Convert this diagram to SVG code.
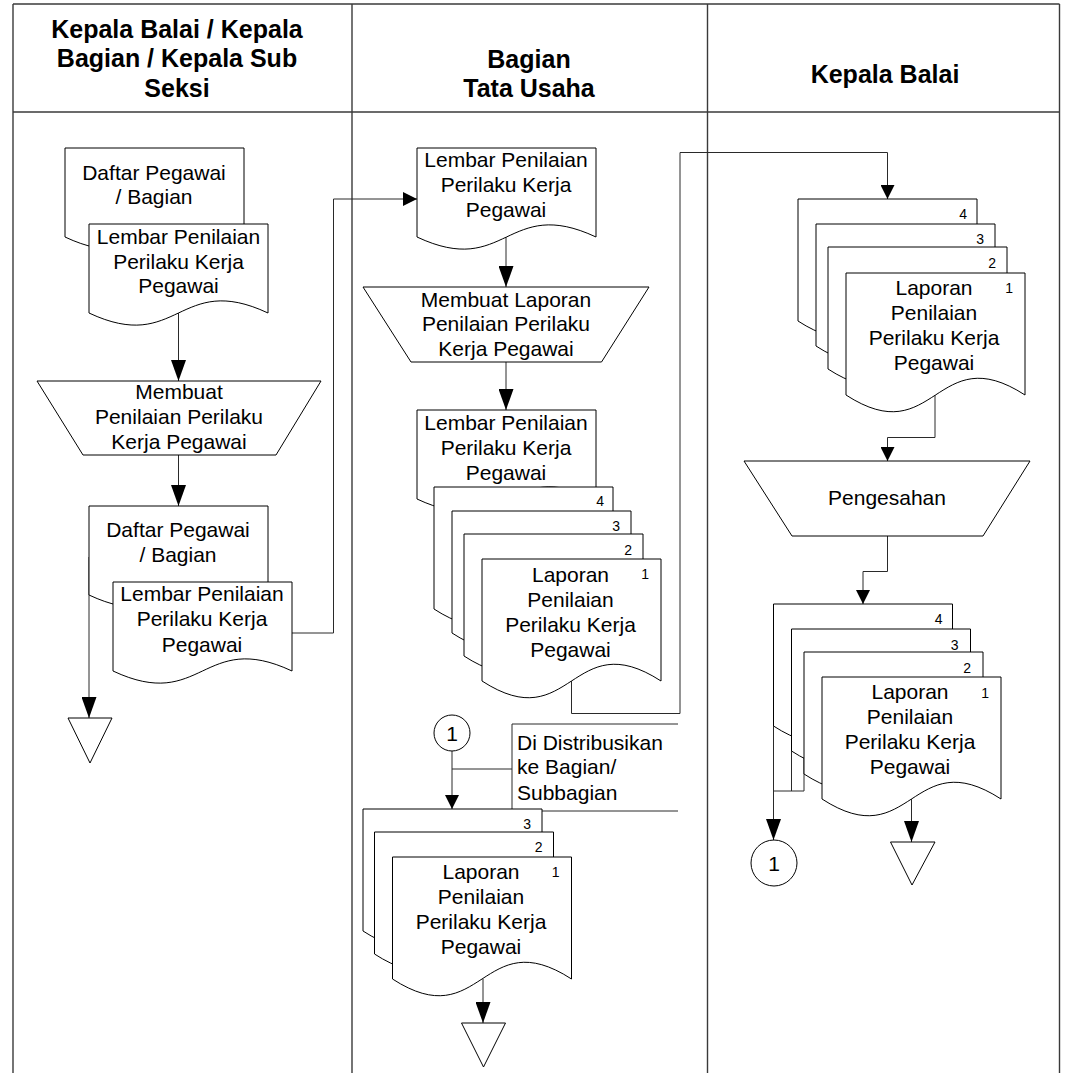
<svg xmlns="http://www.w3.org/2000/svg" xmlns:xlink="http://www.w3.org/1999/xlink" width="1065" height="1073" viewBox="0 0 1065 1073">
  <style>
    .frame { fill: none; stroke: #3a3a3a; stroke-width: 1.4; }
    .shape { fill: #ffffff; stroke: #000000; stroke-width: 1; }
    .line { fill: none; stroke: #2a2a2a; stroke-width: 1; }
    .hdr { font-family: "Liberation Sans", Arial, sans-serif; font-size: 25px; font-weight: bold; fill: #000; text-anchor: middle; }
    .t { font-family: "Liberation Sans", Arial, sans-serif; font-size: 21px; fill: #000; text-anchor: middle; }
    .tl { font-family: "Liberation Sans", Arial, sans-serif; font-size: 21px; fill: #000; }
    .n { font-family: "Liberation Sans", Arial, sans-serif; font-size: 14px; fill: #000; text-anchor: end; }
  </style>
  <defs>
    <!-- document shapes: flat top, wavy bottom -->
    <path id="docS" d="M0,0 H179 V89 C89.5,47 89.5,131 0,89 Z"/>
    <path id="docL" d="M0,0 H179 V122 C89.5,64 89.5,180 0,122 Z"/>
    <marker id="arrowS" markerUnits="userSpaceOnUse" markerWidth="14" markerHeight="14" refX="14" refY="7" orient="auto">
      <path d="M0,0 L14,7 L0,14 Z" fill="#000"/>
    </marker>
    <marker id="arrowL" markerUnits="userSpaceOnUse" markerWidth="21" markerHeight="15" refX="21" refY="7.5" orient="auto">
      <path d="M0,0 L21,7.5 L0,15 Z" fill="#000"/>
    </marker>
  </defs>

  <rect width="1065" height="1073" fill="#ffffff"/>

  <!-- swimlane frame -->
  <g id="lanes">
    <line class="frame" x1="13" y1="4" x2="1059.5" y2="4"/>
    <line class="frame" x1="13" y1="112" x2="1059.5" y2="112"/>
    <line class="frame" x1="13" y1="4" x2="13" y2="1073"/>
    <line class="frame" x1="352" y1="4" x2="352" y2="1073"/>
    <line class="frame" x1="707.5" y1="4" x2="707.5" y2="1073"/>
    <line class="frame" x1="1059.5" y1="4" x2="1059.5" y2="1073"/>
    <text class="hdr" x="177" y="37.5">Kepala Balai / Kepala</text>
    <text class="hdr" x="177" y="67">Bagian / Kepala Sub</text>
    <text class="hdr" x="177" y="96.5">Seksi</text>
    <text class="hdr" x="529" y="67.5">Bagian</text>
    <text class="hdr" x="529" y="96.5">Tata Usaha</text>
    <text class="hdr" x="885" y="83">Kepala Balai</text>
  </g>

  <!-- connectors -->
  <g id="connectors">
    <path class="line" d="M291.7,633 H333.5 V199 H417" marker-end="url(#arrowS)"/>
    <path class="line" d="M178.5,313 V381" marker-end="url(#arrowL)"/>
    <path class="line" d="M178.5,455 V506" marker-end="url(#arrowL)"/>
    <path class="line" d="M89,557 V718" marker-end="url(#arrowL)"/>
    <path class="line" d="M506,237 V287" marker-end="url(#arrowL)"/>
    <path class="line" d="M506,362 V410" marker-end="url(#arrowL)"/>
    <path class="line" d="M571.5,681 V713.5 H680 V152.5 H887.5 V199" marker-end="url(#arrowS)"/>
    <path class="line" d="M452,751 V809" marker-end="url(#arrowS)"/>
    <path class="line" d="M452,769 H512"/>
    <path class="line" d="M483,979 V1023" marker-end="url(#arrowL)"/>
    <path class="line" d="M935,395 V437.5 H887.5 V461" marker-end="url(#arrowS)"/>
    <path class="line" d="M887.5,536 V571.5 H863 V604" marker-end="url(#arrowS)"/>
    <path class="line" d="M804,720 V791 H773.5"/>
    <path class="line" d="M791.5,700 V791"/>
    <path class="line" d="M773.5,680 V840" marker-end="url(#arrowL)"/>
    <path class="line" d="M911.5,799 V842" marker-end="url(#arrowL)"/>
  </g>

  <!-- left lane -->
  <g id="daftar-pegawai-1">
    <use href="#docS" class="shape" x="65" y="148"/>
    <text class="t" x="154" y="180">Daftar Pegawai</text>
    <text class="t" x="154" y="204">/ Bagian</text>
  </g>
  <g id="lembar-penilaian-1">
    <use href="#docS" class="shape" x="89" y="224"/>
    <text class="t" x="178.5" y="243.5">Lembar Penilaian</text>
    <text class="t" x="178.5" y="268.5">Perilaku Kerja</text>
    <text class="t" x="178.5" y="293">Pegawai</text>
  </g>
  <g id="membuat-penilaian">
    <polygon class="shape" points="37,381 321,381 276,455 83,455"/>
    <text class="t" x="179" y="398.5">Membuat</text>
    <text class="t" x="179" y="424">Penilaian Perilaku</text>
    <text class="t" x="179" y="449">Kerja Pegawai</text>
  </g>
  <g id="daftar-pegawai-2">
    <use href="#docS" class="shape" x="89" y="506"/>
    <text class="t" x="178" y="537">Daftar Pegawai</text>
    <text class="t" x="178" y="562">/ Bagian</text>
  </g>
  <g id="lembar-penilaian-2">
    <use href="#docS" class="shape" x="113" y="582"/>
    <text class="t" x="202" y="600.5">Lembar Penilaian</text>
    <text class="t" x="202" y="626">Perilaku Kerja</text>
    <text class="t" x="202" y="651.5">Pegawai</text>
  </g>
  <g id="arsip-1">
    <polygon class="shape" points="68,718 112,718 90,763"/>
  </g>

  <!-- middle lane -->
  <g id="lembar-penilaian-3">
    <use href="#docS" class="shape" x="417" y="148"/>
    <text class="t" x="506" y="167">Lembar Penilaian</text>
    <text class="t" x="506" y="192">Perilaku Kerja</text>
    <text class="t" x="506" y="217">Pegawai</text>
  </g>
  <g id="membuat-laporan">
    <polygon class="shape" points="363,287 649,287 601.5,362 411,362"/>
    <text class="t" x="506" y="306.5">Membuat Laporan</text>
    <text class="t" x="506" y="330.5">Penilaian Perilaku</text>
    <text class="t" x="506" y="355.5">Kerja Pegawai</text>
  </g>
  <g id="lembar-penilaian-4">
    <use href="#docS" class="shape" x="417" y="410"/>
    <text class="t" x="506" y="429.5">Lembar Penilaian</text>
    <text class="t" x="506" y="454.5">Perilaku Kerja</text>
    <text class="t" x="506" y="479.5">Pegawai</text>
  </g>
  <g id="laporan-tu">
    <use href="#docL" class="shape" x="434" y="487"/>
    <text class="n" x="604" y="506">4</text>
    <use href="#docL" class="shape" x="452" y="511"/>
    <text class="n" x="620" y="531">3</text>
    <use href="#docL" class="shape" x="464" y="534"/>
    <text class="n" x="632" y="555">2</text>
    <use href="#docL" class="shape" x="482" y="559"/>
    <text class="n" x="649" y="579">1</text>
    <text class="t" x="570.5" y="581.5">Laporan</text>
    <text class="t" x="570.5" y="606.5">Penilaian</text>
    <text class="t" x="570.5" y="631.5">Perilaku Kerja</text>
    <text class="t" x="570.5" y="656.5">Pegawai</text>
  </g>
  <g id="konektor-1a">
    <circle class="shape" cx="452" cy="733" r="18"/>
    <text class="t" x="452" y="740.5">1</text>
  </g>
  <g id="catatan-distribusi">
    <path class="line" d="M678,724 H512 V811 H678"/>
    <text class="tl" x="517" y="749.5">Di Distribusikan</text>
    <text class="tl" x="517" y="774">ke Bagian/</text>
    <text class="tl" x="517" y="799.5">Subbagian</text>
  </g>
  <g id="laporan-distribusi">
    <use href="#docL" class="shape" x="363" y="809"/>
    <text class="n" x="531" y="829">3</text>
    <use href="#docL" class="shape" x="374.5" y="832"/>
    <text class="n" x="542.5" y="852">2</text>
    <use href="#docL" class="shape" x="392.5" y="857"/>
    <text class="n" x="559.5" y="877">1</text>
    <text class="t" x="481" y="878.5">Laporan</text>
    <text class="t" x="481" y="903.5">Penilaian</text>
    <text class="t" x="481" y="928.5">Perilaku Kerja</text>
    <text class="t" x="481" y="953.5">Pegawai</text>
  </g>
  <g id="arsip-2">
    <polygon class="shape" points="461.5,1023 505.5,1023 483.5,1067"/>
  </g>

  <!-- right lane -->
  <g id="laporan-masuk">
    <use href="#docL" class="shape" x="798" y="199"/>
    <text class="n" x="967" y="218.5">4</text>
    <use href="#docL" class="shape" x="816" y="224"/>
    <text class="n" x="984" y="243.5">3</text>
    <use href="#docL" class="shape" x="828" y="247"/>
    <text class="n" x="996" y="267.5">2</text>
    <use href="#docL" class="shape" x="846" y="273"/>
    <text class="n" x="1013" y="293">1</text>
    <text class="t" x="934" y="294.5">Laporan</text>
    <text class="t" x="934" y="319.5">Penilaian</text>
    <text class="t" x="934" y="344.5">Perilaku Kerja</text>
    <text class="t" x="934" y="369.5">Pegawai</text>
  </g>
  <g id="pengesahan">
    <polygon class="shape" points="744,461 1030,461 983,536 792,536"/>
    <text class="t" x="887" y="505">Pengesahan</text>
  </g>
  <g id="laporan-disahkan">
    <use href="#docL" class="shape" x="773.5" y="604"/>
    <text class="n" x="942.5" y="623.5">4</text>
    <use href="#docL" class="shape" x="791.5" y="629"/>
    <text class="n" x="958.5" y="649.5">3</text>
    <use href="#docL" class="shape" x="804" y="652"/>
    <text class="n" x="971" y="673">2</text>
    <use href="#docL" class="shape" x="822" y="677"/>
    <text class="n" x="989" y="697.5">1</text>
    <text class="t" x="910" y="698.5">Laporan</text>
    <text class="t" x="910" y="724">Penilaian</text>
    <text class="t" x="910" y="749">Perilaku Kerja</text>
    <text class="t" x="910" y="774">Pegawai</text>
  </g>
  <g id="konektor-1b">
    <circle class="shape" cx="774" cy="863" r="23"/>
    <text class="t" x="774" y="870.5">1</text>
  </g>
  <g id="arsip-3">
    <polygon class="shape" points="890.5,842 935,842 912,885"/>
  </g>
</svg>
